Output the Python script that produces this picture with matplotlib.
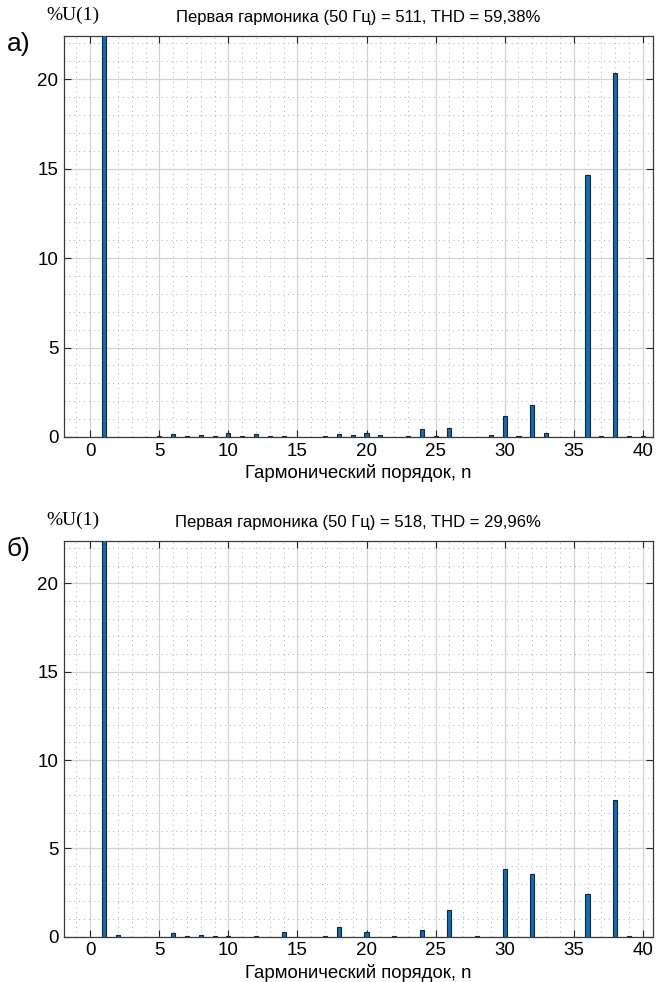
import matplotlib.pyplot as plt
from matplotlib.ticker import MultipleLocator

# harmonic orders and amplitudes (% of fundamental)
orders = list(range(1, 41))
spec_a = [100, 0.02, 0.02, 0.0, 0.07, 0.15, 0.08, 0.10, 0.03, 0.20,
          0.05, 0.18, 0.05, 0.08, 0.0, 0.0, 0.03, 0.18, 0.10, 0.22,
          0.13, 0.02, 0.06, 0.44, 0.05, 0.50, 0.0, 0.02, 0.12, 1.15,
          0.07, 1.80, 0.20, 0.0, 0.0, 14.65, 0.07, 20.37, 0.07, 0.06]
spec_b = [100, 0.10, 0.0, 0.0, 0.0, 0.20, 0.03, 0.08, 0.03, 0.03,
          0.0, 0.02, 0.0, 0.30, 0.0, 0.0, 0.02, 0.56, 0.0, 0.27,
          0.0, 0.02, 0.0, 0.37, 0.0, 1.52, 0.0, 0.03, 0.0, 3.82,
          0.0, 3.58, 0.0, 0.0, 0.0, 2.40, 0.0, 7.75, 0.03, 0.0]
titles = ['Первая гармоника (50 Гц) = 511, THD = 59,38%',
          'Первая гармоника (50 Гц) = 518, THD = 29,96%']
panel_labels = ['а)', 'б)']
xlabel = 'Гармонический порядок, n'

plt.rcParams['font.family'] = ['Liberation Sans', 'DejaVu Sans']

fig = plt.figure(figsize=(6.6, 9.82), dpi=100)
ax_a = fig.add_axes([0.097, 0.555, 0.892, 0.408])
ax_b = fig.add_axes([0.097, 0.046, 0.892, 0.403])

for ax, spec, title, lab in zip([ax_a, ax_b], [spec_a, spec_b], titles, panel_labels):
    ax.bar(orders, spec, width=0.3, color='#0a6fba', edgecolor='#1c2430',
           linewidth=0.8, zorder=3)
    ax.set_xlim(-1.9, 40.72)
    ax.set_ylim(0, 22.4)
    ax.xaxis.set_major_locator(MultipleLocator(5))
    ax.yaxis.set_major_locator(MultipleLocator(5))
    ax.xaxis.set_minor_locator(MultipleLocator(1))
    ax.yaxis.set_minor_locator(MultipleLocator(1))
    ax.grid(which='major', color='#d2d2d2', linewidth=0.9, linestyle='-', zorder=0)
    ax.grid(which='minor', color='#b0b0b0', linewidth=0.7, linestyle=(0, (1, 4)), zorder=0)
    ax.tick_params(which='major', direction='in', length=5, width=0.8,
                   top=True, right=True, labelsize=13.5, colors='#262626',
                   labelcolor='black', pad=4)
    ax.tick_params(which='minor', length=0)
    for s in ax.spines.values():
        s.set_color('#3a3a3a')
        s.set_linewidth(0.9)
    ax.set_xlabel(xlabel, fontsize=13.4, labelpad=3)
    ax.set_title(title, fontsize=12, pad=10)
    ax.text(-0.03, 1.053, '%U(1)', transform=ax.transAxes, fontsize=14,
            family='Liberation Serif', ha='left', va='center')
    ax.text(-0.097, 0.98, lab, transform=ax.transAxes, fontsize=19,
            ha='left', va='center')

fig.savefig('out.png', dpi=100)
